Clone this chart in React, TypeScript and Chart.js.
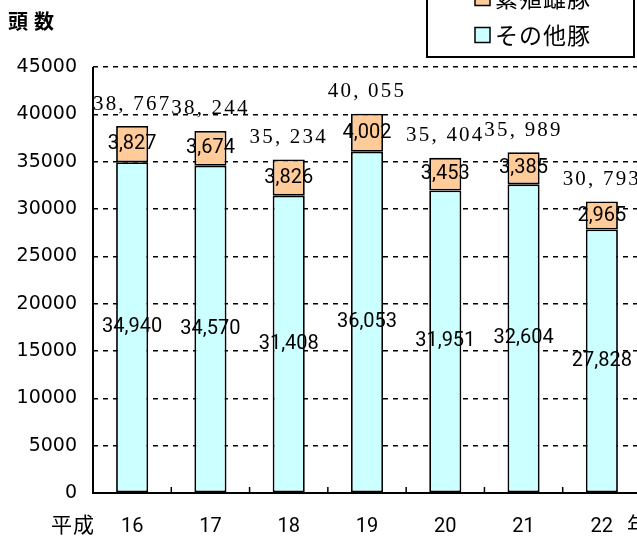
import React, { useEffect, useRef } from "react";
import { Chart, registerables } from "chart.js";

Chart.register(...registerables);

// ---- data ----
const categories = ["16", "17", "18", "19", "20", "21", "22"];
const otherPigs = [34940, 34570, 31408, 36053, 31951, 32604, 27828];
const breedingSows = [3827, 3674, 3826, 4002, 3453, 3385, 2965];
const seriesNames = ["その他豚", "繁殖雌豚"];
const yMin = 0;
const yMax = 45000;
const yStep = 5000;
const yTitle = "頭数";
const xPrefix = "平成";
const xSuffix = "年";

const CYAN = "#CCFFFF";
const ORANGE = "#FFCC99";

const CANVAS_W = 660;
const CANVAS_H = 539;

const fmtComma = (v: number) => v.toLocaleString("en-US");
const fmtTotal = (v: number) => v.toLocaleString("en-US").replace(",", ", ");

const overlayPlugin = {
  id: "overlay",
  afterDatasetsDraw(chart: any) {
    const ctx = chart.ctx as CanvasRenderingContext2D;
    const area = chart.chartArea;
    ctx.save();

    // axis lines
    ctx.strokeStyle = "#000";
    ctx.lineWidth = 2;
    ctx.setLineDash([]);
    ctx.beginPath();
    ctx.moveTo(area.left, area.top);
    ctx.lineTo(area.left, area.bottom);
    ctx.lineTo(area.right + 5, area.bottom);
    ctx.stroke();

    // inward category-boundary ticks
    const n = categories.length;
    const cw = (area.right - area.left) / n;
    ctx.lineWidth = 1.5;
    for (let i = 1; i < n; i++) {
      const x = area.left + cw * i;
      ctx.beginPath();
      ctx.moveTo(x, area.bottom);
      ctx.lineTo(x, area.bottom - 6);
      ctx.stroke();
    }

    // segment value labels
    const m0 = chart.getDatasetMeta(0);
    const m1 = chart.getDatasetMeta(1);
    ctx.fillStyle = "#000";
    ctx.textAlign = "center";
    ctx.textBaseline = "middle";
    ctx.font = "20px Roboto";
    [m0, m1].forEach((meta: any, di: number) => {
      const vals = di === 0 ? otherPigs : breedingSows;
      meta.data.forEach((el: any, i: number) => {
        const p = el.getProps(["x", "y", "base"], true);
        ctx.fillText(fmtComma(vals[i]), p.x, (p.y + p.base) / 2);
      });
    });

    // totals
    ctx.font = "21px 'Liberation Serif'";
    (ctx as any).letterSpacing = "2.2px";
    m1.data.forEach((el: any, i: number) => {
      const p = el.getProps(["x", "y"], true);
      const total = otherPigs[i] + breedingSows[i];
      ctx.fillText(fmtTotal(total), p.x, p.y - 22);
    });
    (ctx as any).letterSpacing = "0px";

    // axis titles
    ctx.font = "bold 20px 'Noto Sans CJK JP'";
    ctx.textAlign = "left";
    (ctx as any).letterSpacing = "6px";
    ctx.fillText(yTitle, 8, 21);
    (ctx as any).letterSpacing = "1px";
    ctx.font = "21px 'Noto Sans CJK JP'";
    ctx.fillText(xPrefix, 51, 524);
    ctx.fillText(xSuffix, 627, 524);
    (ctx as any).letterSpacing = "0px";

    // legend box
    ctx.fillStyle = "#fff";
    ctx.fillRect(427, -10, 207, 67);
    ctx.strokeStyle = "#000";
    ctx.lineWidth = 2;
    ctx.strokeRect(427, -10, 207, 67);
    const rows = [
      { name: seriesNames[1], color: ORANGE, y: -2 },
      { name: seriesNames[0], color: CYAN, y: 35 },
    ];
    ctx.font = "23px 'Noto Sans CJK JP'";
    ctx.textBaseline = "middle";
    rows.forEach((r) => {
      ctx.fillStyle = r.color;
      ctx.fillRect(475, r.y - 7.5, 15, 15);
      ctx.lineWidth = 1.5;
      ctx.strokeRect(475, r.y - 7.5, 15, 15);
      ctx.fillStyle = "#000";
      (ctx as any).letterSpacing = "1px";
      ctx.fillText(r.name, 495, r.y);
      (ctx as any).letterSpacing = "0px";
    });

    ctx.restore();
  },
};

export default function App() {
  const ref = useRef<HTMLCanvasElement | null>(null);

  useEffect(() => {
    if (!ref.current) return;
    const chart = new Chart(ref.current, {
      type: "bar",
      data: {
        labels: categories,
        datasets: [
          {
            label: seriesNames[0],
            data: otherPigs,
            backgroundColor: CYAN,
            borderColor: "#000",
            borderWidth: 1.8,
            borderSkipped: false,
            barPercentage: 0.41,
            categoryPercentage: 1,
          },
          {
            label: seriesNames[1],
            data: breedingSows,
            backgroundColor: ORANGE,
            borderColor: "#000",
            borderWidth: 1.8,
            borderSkipped: false,
            barPercentage: 0.41,
            categoryPercentage: 1,
          },
        ],
      },
      options: {
        animation: false,
        responsive: false,
        devicePixelRatio: 1,
        layout: { padding: { left: 0, right: CANVAS_W - 641, top: 67, bottom: 0 } },
        plugins: {
          legend: { display: false },
          tooltip: { enabled: false },
          title: { display: false },
        },
        scales: {
          x: {
            stacked: true,
            offset: true,
            grid: { display: false, drawTicks: false },
            border: { display: false },
            ticks: {
              padding: 22,
              color: "#000",
              font: { family: "Roboto", size: 20 },
            },
            afterFit: (s: any) => {
              s.height = 46;
            },
          },
          y: {
            stacked: true,
            min: yMin,
            max: yMax,
            ticks: {
              stepSize: yStep,
              padding: 16,
              color: "#000",
              font: { family: "DejaVu Sans", size: 19 },
              callback: (v: any) => String(v),
            },
            grid: { color: "#000", lineWidth: 1.5, drawTicks: false },
            border: { display: false, dash: [5, 5] },
            afterFit: (s: any) => {
              s.width = 93;
            },
          },
        },
      },
      plugins: [overlayPlugin],
    } as any);
    return () => chart.destroy();
  }, []);

  return (
    <div
      style={{
        position: "absolute",
        left: 0,
        top: 0,
        width: 637,
        height: 539,
        overflow: "hidden",
        background: "#fff",
      }}
    >
      <canvas
        ref={ref}
        width={CANVAS_W}
        height={CANVAS_H}
        style={{ width: CANVAS_W, height: CANVAS_H, display: "block" }}
      />
    </div>
  );
}
